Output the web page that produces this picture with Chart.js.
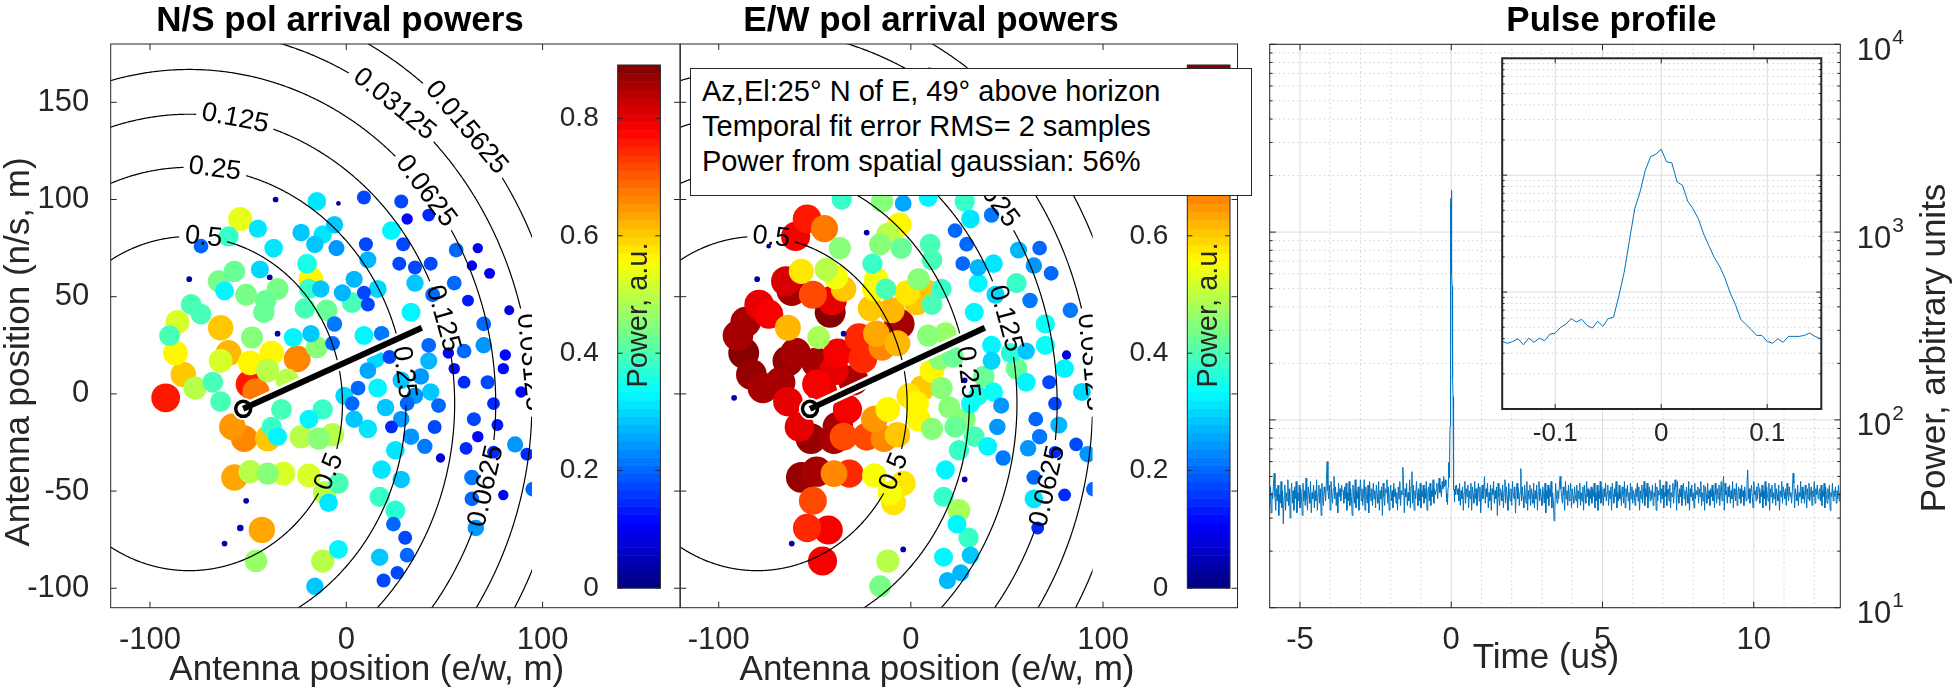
<!DOCTYPE html>
<html>
<head>
<meta charset="utf-8">
<script src="https://cdn.jsdelivr.net/npm/chart.js"></script>
<style>
  body { margin: 0; background: #fff; }
  #fig { position: relative; width: 1953px; height: 690px; overflow: hidden; background: #fff; }
  canvas { position: absolute; }
  #infoBox {
    position: absolute; left: 690px; top: 68px; width: 562px; height: 128px; box-sizing: border-box;
    border: 1px solid #262626; background: #fff; color: #000;
    font: 29px "Liberation Sans", Arial, sans-serif; line-height: 35px; padding: 5px 0 0 11px; white-space: nowrap;
  }
</style>
</head>
<body>
<div id="fig">
  <canvas id="nsChart" width="721" height="690" style="left:0;top:0"></canvas>
  <canvas id="ewChart" width="642" height="690" style="left:611px;top:0"></canvas>
  <canvas id="pulseChart" width="833" height="690" style="left:1120px;top:0"></canvas>
  <canvas id="insetChart" width="360" height="420" style="left:1482px;top:40px"></canvas>
  <div id="infoBox">Az,El:25° N of E, 49° above horizon<br>Temporal fit error RMS= 2 samples<br>Power from spatial gaussian: 56%</div>
</div>
<script>
const FONT = '"Liberation Sans", Arial, Helvetica, sans-serif'
const INK = '#262626'

// antenna positions (m) and arrival power per polarisation (a.u.)
const antennaX = [-36,-15,9,28,31,42,-54,-60,-45,-37,-6,-23,-16,-12,-5,23,10,29,-74,56,67,-20,11,27,35,43,64,73,-80,-39,
  -44,-57,-65,-62,-18,-13,-19,4,16,9,11,-2,3,35,44,55,62,83,-51,-41,-35,-79,-74,-42,-21,-10,33,-4,
  -86,-64,-90,-87,-83,-92,-77,-68,-64,-64,-60,-48,-49,-46,-49,-38,-40,-30,-25,-33,-58,-52,-40,-38,-35,-23,-14,-7,-19,-12,
  -15,-18,-6,-7,-35,-27,-1,3,6,11,9,18,22,16,15,11,4,20,23,28,28,31,35,42,42,38,43,47,45,33,40,25,
  52,60,55,60,70,70,81,80,72,75,65,77,67,61,75,86,92,89,48,
  -57,-49,-40,-32,-19,-11,-4,-9,-51,-43,-54,-62,-46,-12,-4,-16,18,28,17,25,24,30,17,31,26,19,64,64,66,80,95]
const antennaY = [100,99,101,99,90,92,90,81,85,75,87,83,77,82,75,84,77,77,76,74,75,67,69,67,65,67,66,62,59,60,
  64,63,58,53,59,54,54,59,54,52,46,52,47,57,51,57,48,43,51,48,54,46,41,42,44,43,42,98,
  37,34,30,21,10,-2,3,6,-4,17,21,29,5,1,16,21,12,7,18,-8,-17,-23,-23,-17,-22,-22,-23,-21,-13,-8,
  24,31,36,26,31,29,-1,-5,3,12,30,31,19,3,18,-18,-13,-7,-17,-13,7,-5,-1,25,17,9,1,-6,-17,-22,-27,-29,
  21,22,13,6,25,36,20,13,6,-5,-13,-16,-22,-28,-30,-26,-31,1,-33,
  -43,-40,-41,-41,-42,-51,-46,-56,-55,-70,-69,-77,-86,-86,-80,-99,-39,-44,-53,-60,-67,-74,-84,-83,-92,-96,-43,-54,-69,-52,-49]
const powerNS = [.03,.32,.18,.18,.12,.15,.53,.38,.31,.32,.28,.28,.28,.31,.24,.33,.18,.18,.2,.2,.1,.36,.27,.18,.18,.18,.1,.11,.03,.03,
  .3,.42,.44,.33,.56,.28,.38,.27,.3,.18,.18,.27,.4,.28,.2,.2,.13,.09,.44,.42,.44,.4,.4,.42,.4,.42,.33,.02,
  .52,.6,.4,.56,.6,.76,.5,.4,.4,.52,.62,.45,.76,.68,.56,.56,.5,.5,.66,.4,.65,.66,.6,.38,.33,.5,.45,.5,.33,.38,
  .45,.28,.22,.2,.03,.33,.3,.2,.2,.26,.33,.22,.18,.33,.3,.32,.28,.28,.15,.25,.28,.2,.25,.2,.27,.25,.28,.2,.18,.25,.22,.32,
  .12,.2,.12,.15,.25,.2,.12,.12,.18,.15,.18,.13,.12,.15,.15,.24,.15,.12,.08,
  .64,.5,.45,.52,.52,.5,.4,.32,.03,.64,.04,.03,.47,.5,.33,.28,.32,.28,.38,.37,.2,.18,.28,.2,.17,.18,.22,.2,.25,.1,.2]
const powerEW = [.38,.45,.33,.38,.32,.22,.76,.78,.68,.45,.56,.03,.45,.5,.42,.2,.4,.2,.02,.27,.2,.38,.4,.2,.27,.32,.25,.2,.03,.55,
  .5,.58,.82,.85,.55,.4,.56,.45,.38,.6,.4,.58,.6,.33,.3,.38,.22,.22,.72,.8,.6,.8,.78,.88,.6,.62,.33,.26,
  .85,.62,.86,.88,.87,.03,.86,.85,.8,.87,.86,.48,.78,.8,.86,.78,.8,.86,.75,.78,.8,.87,.86,.86,.72,.72,.66,.6,.65,.56,
  .66,.64,.85,.62,.03,.75,.58,.56,.6,.56,.45,.47,.42,.45,.45,.45,.56,.45,.42,.45,.03,.34,.36,.33,.3,.42,.34,.24,.25,.4,.33,.38,
  .37,.28,.43,.33,.34,.34,.08,.33,.18,.17,.2,.27,.22,.25,.14,.17,.25,.3,.22,
  .87,.85,.66,.74,.55,.55,.58,.58,.72,.78,.74,.03,.78,.5,.03,.44,.33,.03,.38,.48,.33,.38,.33,.28,.27,.27,.2,.32,.15,.15,.2]

const antennaXTicks = [-100, 0, 100]
const antennaYTicks = [-100, -50, 0, 50, 100, 150]
const colorTicks = [0, 0.2, 0.4, 0.6, 0.8]
const colorMax = 0.891
const markerScale = 16.5

// spatial gaussian fit and the arrival direction line
const fitCenter = [-80, -5]
const fitSigma = [66.3, 73.0]
const contourLevels = [0.5, 0.25, 0.125, 0.0625, 0.03125, 0.015625]
const contourLabelSpots = [[0.5, -72.8, 79.2], [0.5, -9.3, -39.8], [0.25, -67.1, 114.3], [0.25, 29.3, 11],
  [0.125, -57, 139.3], [0.125, 47.4, 38.1], [0.0625, 39.4, 103.3], [0.0625, 71.2, -47.5],
  [0.03125, 23.6, 147.7], [0.03125, 91.6, 16], [0.015625, 59.9, 135.8]]
const gridEdgeX = 94.6
const arrivalFrom = [-52.5, -7.7]
const arrivalTo = [38.5, 34]

// pulse profile (power, a.u.)
const timeTicks = [-5, 0, 5, 10]
const powerDecades = [10, 100, 1000, 10000]
const insetTimeTicks = [-0.1, 0, 0.1]
// -6.000 .. -0.175 us, 25 ns apart
const noiseBefore = [35,44,32,41,38,46,52,39,33,43,37,45,31,40,36,47,34,42,28,39,
  45,33,41,37,48,35,43,30,40,46,36,42,33,44,38,47,32,41,37,45,
  34,43,39,31,46,37,42,35,49,38,33,44,40,36,47,32,41,38,45,34,
  42,37,48,33,40,45,36,43,31,46,39,35,44,41,37,48,60,42,38,45,
  33,47,40,36,43,50,38,44,35,41,32,46,39,43,37,45,42,42,36,44,
  38,46,33,41,37,47,35,43,39,31,45,40,36,48,34,42,38,44,33,41,
  48,37,43,35,40,48,33,44,39,36,45,32,47,41,37,43,35,46,38,42,
  34,45,40,36,47,33,42,38,44,31,46,39,35,43,41,48,36,44,33,40,
  45,37,42,34,46,39,43,36,41,33,44,38,47,35,42,40,56,45,32,43,
  39,46,35,41,37,48,34,44,53,36,45,33,42,38,47,41,35,43,37,46,
  34,42,39,45,36,43,38,47,33,41,44,37,46,35,42,39,48,36,43,40,
  42,46,38,44,49,41,45,39,47,43,50,44,48,45]
// -0.150 .. 0.150 us, 5 ns apart
const pulseSamples = [37.8,36.5,37.8,39.9,35.4,40.4,37.2,40.4,38.3,43.7,44.6,49.9,53,59.3,55.5,58.5,52,49.2,56.3,50.9,
  59.3,60.8,92.5,147,275,516,718,1104,1438,1517,1667,1303,1277,875,820,601,516,424,314,249,198,
  167,133,98.6,78.3,58.5,52.7,47.7,42.6,42.6,37.8,36.5,39.9,37.2,41.8,41.8,41.8,42.6,44.6,41.8,40]
// 0.175 .. 12.875 us, 25 ns apart
const noiseAfter = [45,40,43,37,46,35,42,38,44,33,41,47,36,43,39,45,34,42,38,46,
  33,44,40,36,47,38,43,35,41,46,37,44,32,40,45,38,42,50,36,43,
  39,46,34,41,37,45,33,43,40,47,36,42,38,44,31,46,39,35,43,41,
  37,45,34,42,48,36,44,39,33,46,40,37,43,35,47,41,38,44,32,42,
  46,38,43,35,41,55,37,44,39,34,45,40,36,47,33,42,38,45,35,43,
  40,36,46,34,42,38,45,33,41,47,37,43,39,35,44,40,36,46,32,42,
  38,45,35,43,39,47,34,41,37,29,33,46,40,36,42,38,45,50,43,39,
  36,44,40,33,47,38,42,35,45,37,41,46,34,43,39,36,44,40,37,45,
  34,42,38,46,35,41,37,44,33,45,40,36,47,39,43,35,42,38,44,36,
  43,39,46,34,41,37,45,33,42,38,47,36,44,40,35,43,39,46,37,41,
  45,35,42,38,44,33,46,40,36,43,39,47,34,41,37,45,38,42,35,44,
  40,36,47,34,43,39,45,37,41,33,46,38,44,36,42,40,35,43,39,46,
  37,44,33,42,38,45,36,41,47,35,43,39,46,34,40,44,37,42,38,45,
  35,41,39,46,33,44,37,42,40,48,36,43,38,45,34,41,39,47,35,42,
  43,37,45,34,41,39,46,36,42,48,44,33,47,40,36,43,39,45,35,41,
  46,38,42,35,44,40,36,47,33,43,39,45,37,41,34,46,38,42,40,44,
  36,43,39,47,35,41,37,45,33,44,40,36,46,38,42,35,43,39,45,37,
  42,34,46,40,36,43,38,45,35,41,47,37,44,50,33,46,40,42,36,44,
  39,45,36,42,38,47,34,43,40,37,46,35,41,44,38,43,36,45,39,42,
  35,44,40,37,46,54,38,43,36,41,45,39,34,47,40,42,37,44,38,46,
  43,36,41,39,45,34,42,38,47,35,44,40,37,46,33,43,39,45,36,41,
  38,46,35,43,40,37,45,33,42,39,47,36,44,41,38,43,35,46,40,37,
  44,39,41,36,42,52,46,34,43,40,37,45,35,41,39,47,36,44,38,42,
  36,45,40,34,43,38,46,37,41,44,35,42,39,47,36,43,40,45,38,41,
  43,37,45,35,42,39,46,34,44,40,36,43,38,45,33,41,39,46,37,42,
  39,44,36,42,38,45,37,41,40]

function jetColor(p) {
    let k = Math.max(0, Math.min(63, Math.floor(p / colorMax * 64)))
    let t = (k + 0.5) / 64
    let c = v => Math.round(255 * Math.max(0, Math.min(1, v)))
    return 'rgb(' + c(Math.min(4 * t - 1.5, 4.5 - 4 * t)) + ',' + c(Math.min(4 * t - 0.5, 3.5 - 4 * t)) + ',' + c(Math.min(4 * t + 0.5, 2.5 - 4 * t)) + ')'
}

function series(values, t0, dt) {
    return values.map((v, i) => ({x: +(t0 + i * dt).toFixed(4), y: v}))
}

function text(ctx, str, x, y, size, opts = {}) {
    ctx.save()
    ctx.translate(x, y)
    if (opts.rotate) ctx.rotate(opts.rotate)
    ctx.font = (opts.weight || '') + ' ' + size + 'px ' + FONT
    ctx.fillStyle = opts.color || INK
    ctx.textAlign = opts.align || 'center'
    ctx.textBaseline = 'middle'
    ctx.fillText(str, 0, 0)
    ctx.restore()
}

function drawBox(chart, xTicks, yTicks, width) {
    let {ctx, chartArea: a, scales: {x, y}} = chart
    ctx.save()
    ctx.strokeStyle = INK
    ctx.lineWidth = width || 1
    ctx.strokeRect(a.left, a.top, a.width, a.height)
    ctx.beginPath()
    xTicks.forEach(([v, len]) => {
        let px = x.getPixelForValue(v)
        ctx.moveTo(px, a.bottom); ctx.lineTo(px, a.bottom - len)
        ctx.moveTo(px, a.top); ctx.lineTo(px, a.top + len)
    })
    yTicks.forEach(([v, len]) => {
        let py = y.getPixelForValue(v)
        ctx.moveTo(a.left, py); ctx.lineTo(a.left + len, py)
        ctx.moveTo(a.right, py); ctx.lineTo(a.right - len, py)
    })
    ctx.lineWidth = 1
    ctx.stroke()
    ctx.restore()
}

function drawContours(chart) {
    let {ctx, chartArea: a, scales: {x, y}} = chart
    let kx = x.getPixelForValue(1) - x.getPixelForValue(0)
    let ky = y.getPixelForValue(0) - y.getPixelForValue(1)
    ctx.save()
    ctx.beginPath()
    ctx.rect(a.left, a.top, x.getPixelForValue(gridEdgeX) - a.left, a.height)
    ctx.clip()
    ctx.font = '27px ' + FONT
    contourLevels.forEach(level => {
        let k = Math.sqrt(2 * Math.log(1 / level))
        let rx = fitSigma[0] * k, ry = fitSigma[1] * k
        let label = String(level)
        let halfGap = ctx.measureText(label).width / 2 + 5
        let spots = contourLabelSpots.filter(s => s[0] === level).map(s => {
            let th = Math.atan2((s[2] - fitCenter[1]) / ry, (s[1] - fitCenter[0]) / rx)
            let ang = Math.atan2(-ry * ky * Math.cos(th), -rx * kx * Math.sin(th))
            if (ang > Math.PI / 2) ang -= Math.PI
            if (ang <= -Math.PI / 2) ang += Math.PI
            return {
                px: x.getPixelForValue(fitCenter[0] + rx * Math.cos(th)),
                py: y.getPixelForValue(fitCenter[1] + ry * Math.sin(th)),
                ang
            }
        })
        ctx.beginPath()
        let pen = false
        for (let i = 0; i <= 1440; i++) {
            let th = i / 1440 * 2 * Math.PI
            let px = x.getPixelForValue(fitCenter[0] + rx * Math.cos(th))
            let py = y.getPixelForValue(fitCenter[1] + ry * Math.sin(th))
            if (spots.some(s => Math.hypot(px - s.px, py - s.py) < halfGap)) { pen = false; continue }
            if (pen) ctx.lineTo(px, py)
            else { ctx.moveTo(px, py); pen = true }
        }
        ctx.strokeStyle = '#000'
        ctx.lineWidth = 1.2
        ctx.stroke()
        spots.forEach(s => text(ctx, label, s.px, s.py, 27, {rotate: s.ang, color: '#000'}))
    })
    ctx.restore()
}

function drawColorbar(chart) {
    let {ctx, chartArea: a} = chart
    let left = a.left + 507, w = 42.7, top = 65, bottom = 588, h = bottom - top
    for (let k = 0; k < 64; k++) {
        ctx.fillStyle = jetColor((k + 0.5) / 64 * colorMax)
        let y0 = bottom - k / 64 * h, y1 = bottom - (k + 1) / 64 * h
        ctx.fillRect(left, y1, w, y0 - y1 + 0.5)
    }
    ctx.save()
    ctx.strokeStyle = INK
    ctx.lineWidth = 1
    ctx.strokeRect(left, top, w, h)
    ctx.beginPath()
    colorTicks.forEach(v => {
        let py = bottom - v / colorMax * h
        ctx.moveTo(left, py); ctx.lineTo(left + 5, py)
        ctx.moveTo(left + w, py); ctx.lineTo(left + w - 5, py)
        text(ctx, String(v), left - 19, py, 28, {align: 'right'})
    })
    ctx.stroke()
    ctx.restore()
    text(ctx, 'Power, a.u.', left + w / 2, 315, 29, {rotate: -Math.PI / 2})
}

function antennaChart(id, powers, title, opts) {
    let order = powers.map((p, i) => i).sort((i, j) => powers[j] - powers[i])
    let pts = order.map(i => ({x: antennaX[i], y: antennaY[i]}))
    let from = {x: arrivalFrom[0], y: arrivalFrom[1]}
    let to = {x: arrivalTo[0], y: arrivalTo[1]}
    let decor = {
        id: 'decor' + id,
        beforeDatasetDraw(chart, args) {
            if (args.index !== 0) return
            let {ctx, chartArea: a, scales: {x}} = chart
            ctx.save()
            ctx.beginPath()
            ctx.rect(a.left, a.top, x.getPixelForValue(gridEdgeX) - a.left, a.height)
            ctx.clip()
        },
        afterDatasetDraw(chart, args) {
            if (args.index !== 0) return
            chart.ctx.restore()
            drawContours(chart)
        },
        afterDraw(chart) {
            drawBox(chart, antennaXTicks.map(v => [v, 6]), antennaYTicks.map(v => [v, 6]))
            drawColorbar(chart)
            let {ctx} = chart
            text(ctx, 'Antenna position (e/w, m)', opts.xTitleX, 670, 35)
            if (opts.yTitle) text(ctx, 'Antenna position (n/s, m)', 19, 352, 35, {rotate: -Math.PI / 2})
        }
    }
    return new Chart(document.getElementById(id), {
        type: 'scatter',
        data: {
            datasets: [
                {data: pts, order: 5, borderWidth: 0,
                    pointRadius: c => markerScale * Math.sqrt(powers[order[c.dataIndex]]),
                    backgroundColor: c => jetColor(powers[order[c.dataIndex]])},
                {data: [from], order: 4, pointRadius: 11, backgroundColor: '#fff', borderWidth: 0},
                {type: 'line', data: [from, to], order: 3, borderColor: '#fff', borderWidth: 11, pointRadius: 0},
                {data: [from], order: 2, pointRadius: 7.5, backgroundColor: '#fff', borderColor: '#000', borderWidth: 3.5},
                {type: 'line', data: [from, to], order: 1, borderColor: '#000', borderWidth: 6, pointRadius: 0}
            ]
        },
        options: {
            responsive: false,
            animation: false,
            events: [],
            layout: {padding: {left: 0, right: opts.padRight, top: 0, bottom: 0}},
            plugins: {
                legend: {display: false},
                tooltip: {enabled: false},
                title: {display: true, text: title, color: '#000', font: {family: FONT, size: 35, weight: 'bold'}, padding: {top: 0, bottom: 2}}
            },
            scales: {
                x: {
                    type: 'linear', min: -120, max: 170,
                    grid: {display: false, drawTicks: false}, border: {display: false},
                    afterBuildTicks: s => { s.ticks = antennaXTicks.map(v => ({value: v})) },
                    afterFit: s => { s.height = 82.3 },
                    ticks: {color: INK, font: {family: FONT, size: 31}, padding: 14, maxRotation: 0, autoSkip: false}
                },
                y: {
                    type: 'linear', min: -110, max: 180,
                    grid: {display: false, drawTicks: false}, border: {display: false},
                    afterBuildTicks: s => { s.ticks = antennaYTicks.map(v => ({value: v})) },
                    afterFit: s => { s.width = opts.yWidth },
                    ticks: {display: opts.yLabels, color: INK, font: {family: FONT, size: 31}, padding: 21.4, autoSkip: false}
                }
            }
        },
        plugins: [decor]
    })
}

antennaChart('nsChart', powerNS, 'N/S pol arrival powers', {padRight: 41, yWidth: 110.7, yLabels: true, yTitle: true, xTitleX: 366.8})
antennaChart('ewChart', powerEW, 'E/W pol arrival powers', {padRight: 2, yWidth: 69.3, yLabels: false, yTitle: false, xTitleX: 326})

let trace = [...series(noiseBefore, -6, 0.025), ...series(pulseSamples, -0.15, 0.005), ...series(noiseAfter, 0.175, 0.025)]

function logMinors() {
    let out = []
    powerDecades.slice(0, -1).forEach(d => { for (let m = 2; m <= 9; m++) out.push(d * m) })
    return out
}

function drawGrid(chart, xMajor, xMinor) {
    let {ctx, chartArea: a, scales: {x, y}} = chart
    ctx.save()
    ctx.lineWidth = 1
    ctx.strokeStyle = '#d0d0d0'
    ctx.setLineDash([1.5, 3])
    ctx.beginPath()
    xMinor.forEach(v => { let px = x.getPixelForValue(v); ctx.moveTo(px, a.top); ctx.lineTo(px, a.bottom) })
    logMinors().forEach(v => { let py = y.getPixelForValue(v); ctx.moveTo(a.left, py); ctx.lineTo(a.right, py) })
    ctx.stroke()
    ctx.setLineDash([])
    ctx.strokeStyle = '#dcdcdc'
    ctx.beginPath()
    xMajor.forEach(v => { let px = x.getPixelForValue(v); ctx.moveTo(px, a.top); ctx.lineTo(px, a.bottom) })
    powerDecades.forEach(v => { let py = y.getPixelForValue(v); ctx.moveTo(a.left, py); ctx.lineTo(a.right, py) })
    ctx.stroke()
    ctx.restore()
}

let timeMinor = []
for (let t = -6; t <= 12; t++) if (!timeTicks.includes(t)) timeMinor.push(t)

new Chart(document.getElementById('pulseChart'), {
    type: 'line',
    data: {datasets: [{data: trace, borderColor: '#0072BD', borderWidth: 1, pointRadius: 0, tension: 0}]},
    options: {
        responsive: false,
        animation: false,
        events: [],
        layout: {padding: {left: 149.7, right: 0, top: 0, bottom: 0}},
        plugins: {
            legend: {display: false},
            tooltip: {enabled: false},
            title: {display: true, text: 'Pulse profile', color: '#000', font: {family: FONT, size: 35, weight: 'bold'}, padding: {top: 0, bottom: 2.3}}
        },
        scales: {
            x: {
                type: 'linear', min: -6, max: 12.86,
                grid: {display: false, drawTicks: false}, border: {display: false},
                afterBuildTicks: s => { s.ticks = timeTicks.map(v => ({value: v})) },
                afterFit: s => { s.height = 82.3 },
                ticks: {color: INK, font: {family: FONT, size: 31}, padding: 14, maxRotation: 0, autoSkip: false}
            },
            y: {
                type: 'logarithmic', position: 'right', min: 10, max: 10000,
                grid: {display: false, drawTicks: false}, border: {display: false},
                afterBuildTicks: s => { s.ticks = powerDecades.map(v => ({value: v})) },
                afterFit: s => { s.width = 112.7 },
                ticks: {display: false}
            }
        }
    },
    plugins: [{
        id: 'pulseDecor',
        beforeDatasetsDraw(chart) { drawGrid(chart, timeTicks, timeMinor) },
        afterDraw(chart) {
            let {ctx, chartArea: a, scales: {y}} = chart
            drawBox(chart, timeTicks.map(v => [v, 6]), [...powerDecades.map(v => [v, 6]), ...logMinors().map(v => [v, 3])])
            powerDecades.forEach(v => {
                let py = y.getPixelForValue(v)
                ctx.font = '31px ' + FONT
                let w = ctx.measureText('10').width
                text(ctx, '10', a.right + 16.4, py + 7, 31, {align: 'left'})
                text(ctx, String(Math.round(Math.log10(v))), a.right + 17.4 + w, py - 6, 21, {align: 'left'})
            })
            text(ctx, 'Time (us)', 426, 658, 35)
            text(ctx, 'Power, arbitrary units', 815, 348, 35, {rotate: -Math.PI / 2})
        }
    }]
})

new Chart(document.getElementById('insetChart'), {
    type: 'line',
    data: {datasets: [{data: series(pulseSamples, -0.15, 0.005), borderColor: '#0072BD', borderWidth: 1, pointRadius: 0, tension: 0}]},
    options: {
        responsive: false,
        animation: false,
        events: [],
        layout: {padding: {left: 20.2, right: 20.7, top: 18.3, bottom: 0}},
        plugins: {legend: {display: false}, tooltip: {enabled: false}},
        scales: {
            x: {
                type: 'linear', min: -0.15, max: 0.151,
                grid: {display: false, drawTicks: false}, border: {display: false},
                afterBuildTicks: s => { s.ticks = insetTimeTicks.map(v => ({value: v})) },
                afterFit: s => { s.height = 51 },
                ticks: {color: INK, font: {family: FONT, size: 26}, padding: 9.4, maxRotation: 0, autoSkip: false}
            },
            y: {type: 'logarithmic', display: false, min: 10, max: 10000}
        }
    },
    plugins: [{
        id: 'insetDecor',
        beforeDraw(chart) {
            let {ctx, chartArea: a} = chart
            ctx.fillStyle = '#fff'
            ctx.fillRect(a.left, a.top, a.width, a.height)
        },
        beforeDatasetsDraw(chart) { drawGrid(chart, insetTimeTicks, []) },
        afterDraw(chart) {
            drawBox(chart, insetTimeTicks.map(v => [v, 5]), [...powerDecades.map(v => [v, 5]), ...logMinors().map(v => [v, 2.5])], 2)
        }
    }]
})
</script>
</body>
</html>
